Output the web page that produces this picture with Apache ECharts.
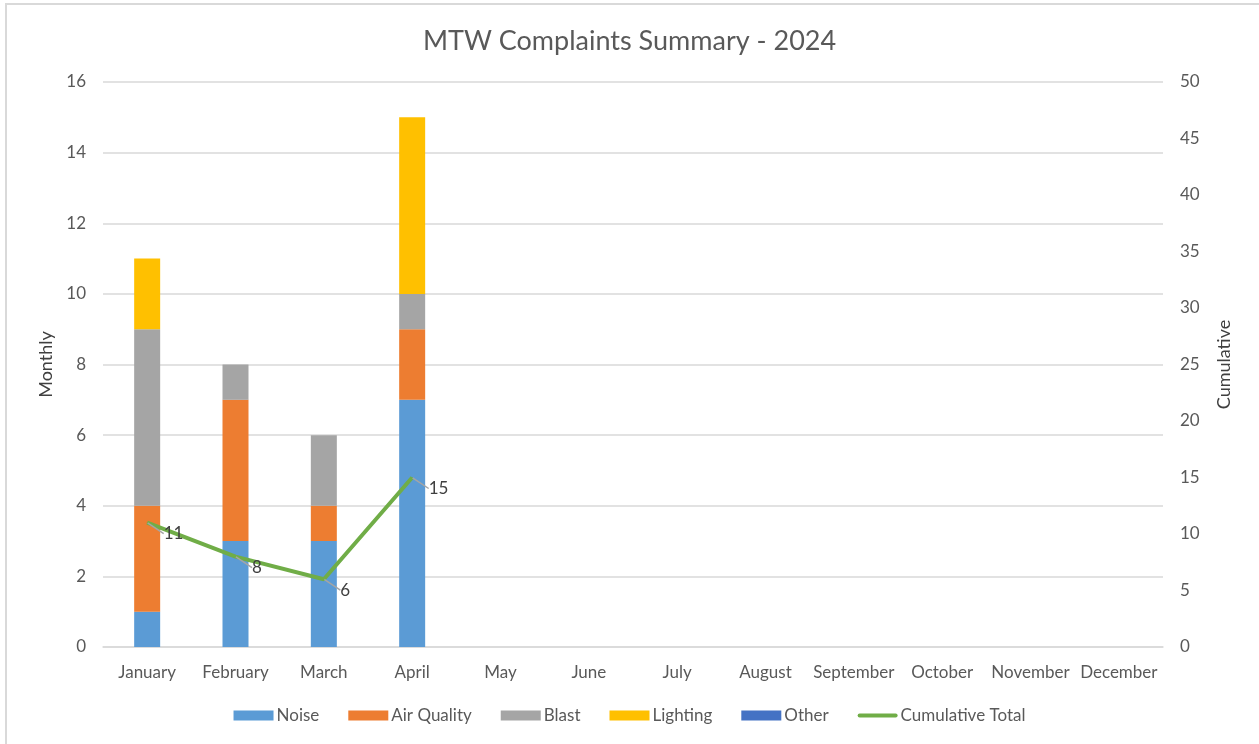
<!DOCTYPE html>
<html>
<head>
<meta charset="utf-8">
<script src="https://cdn.jsdelivr.net/npm/echarts@6/dist/echarts.min.js"></script>
<style>
  body { margin: 0; background: #fff; }
  #chart { position: absolute; left: 0; top: 0; width: 1259px; height: 744px; }
  #frame { position: absolute; left: 5px; top: 3px; width: 1270px; height: 760px;
           border: 2px solid #d9d9d9; pointer-events: none; }
</style>
</head>
<body>
<div id="chart"></div>
<div id="frame"></div>
<script>
// data
var months = ['January', 'February', 'March', 'April', 'May', 'June', 'July',
  'August', 'September', 'October', 'November', 'December'];
var noise = [1, 3, 3, 7];
var airQuality = [3, 4, 1, 2];
var blast = [5, 1, 2, 1];
var lighting = [2, null, null, 5];
var other = [];
var cumulative = [11, 8, 6, 15];

var font = 'Lato, "Noto Sans", sans-serif';
var grey = '#595959';

var chart = echarts.init(document.getElementById('chart'));

function barSeries(name, data, color) {
  return {
    name: name,
    type: 'bar',
    stack: 'monthly',
    barWidth: 26,
    data: data,
    itemStyle: { color: color }
  };
}

// thick line with round ends, padded to the full legend icon box
var lineIcon = 'path://M0,0 M40,10 M2,3 L38,3 A2,2 0 0 1 38,7 L2,7 A2,2 0 0 1 2,3 Z';

var option = {
  animation: false,
  textStyle: { fontFamily: font },
  title: {
    text: 'MTW Complaints Summary - 2024',
    left: 'center',
    top: 23,
    textStyle: { fontFamily: font, fontSize: 27, fontWeight: 'normal', color: grey }
  },
  legend: {
    bottom: 15,
    left: 'center',
    itemWidth: 40,
    itemHeight: 10,
    itemGap: 29,
    textStyle: { fontFamily: font, fontSize: 17, color: grey, padding: [0, 0, 0, -2] },
    data: [
      { name: 'Noise', icon: 'rect' },
      { name: 'Air Quality', icon: 'rect' },
      { name: 'Blast', icon: 'rect' },
      { name: 'Lighting', icon: 'rect' },
      { name: 'Other', icon: 'rect' },
      { name: 'Cumulative Total', icon: lineIcon }
    ]
  },
  grid: { left: 103, right: 96, top: 82, bottom: 97 },
  xAxis: {
    type: 'category',
    data: months,
    axisTick: { show: false },
    axisLine: { lineStyle: { color: '#d9d9d9', width: 1.5 } },
    axisLabel: { color: grey, fontSize: 17, margin: 17, interval: 0 }
  },
  yAxis: [
    {
      type: 'value',
      name: 'Monthly',
      nameLocation: 'middle',
      nameGap: 33,
      nameTextStyle: { color: '#404040', fontSize: 18 },
      min: 0, max: 16, interval: 2,
      axisLabel: { color: grey, fontSize: 17, margin: 17 },
      splitLine: { lineStyle: { color: '#d9d9d9', width: 1.5 } }
    },
    {
      type: 'value',
      name: 'Cumulative',
      nameLocation: 'middle',
      nameGap: 52,
      nameRotate: 90,
      nameTextStyle: { color: '#404040', fontSize: 18 },
      min: 0, max: 50, interval: 5,
      axisLabel: { color: grey, fontSize: 17, margin: 17 },
      splitLine: { show: false }
    }
  ],
  series: [
    barSeries('Noise', noise, '#5b9bd5'),
    barSeries('Air Quality', airQuality, '#ed7d31'),
    barSeries('Blast', blast, '#a5a5a5'),
    barSeries('Lighting', lighting, '#ffc000'),
    barSeries('Other', other, '#4472c4'),
    {
      name: 'Cumulative Total',
      type: 'line',
      yAxisIndex: 1,
      data: cumulative,
      symbol: 'circle',
      symbolSize: 1,
      showSymbol: true,
      lineStyle: { color: '#70ad47', width: 4 },
      itemStyle: { color: '#70ad47' },
      label: {
        show: true,
        position: 'right',
        distance: 4,
        color: '#404040',
        fontSize: 17
      },
      labelLayout: { dx: 12, dy: 11 },
      labelLine: { show: true, lineStyle: { color: '#a5a5a5', width: 1.5 } }
    }
  ]
};

chart.setOption(option);
</script>
</body>
</html>
